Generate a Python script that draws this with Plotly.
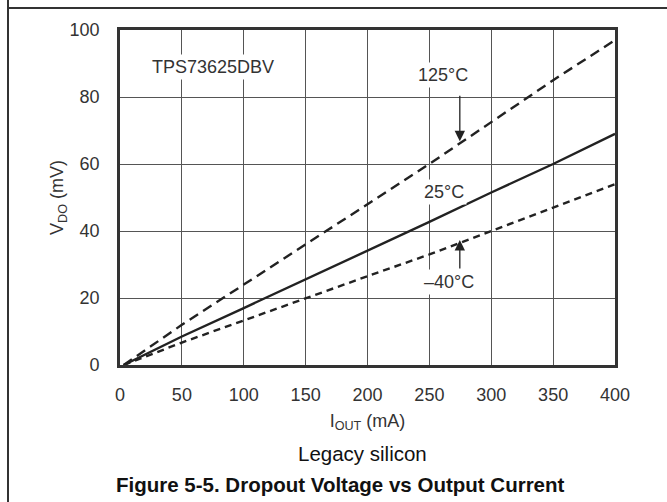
import plotly.graph_objects as go

# Dropout voltage (mV) vs output current (mA), TPS73625DBV, legacy silicon
i_out = [3, 50, 100, 150, 200, 250, 300, 350, 400]
vdo_125c = [0, 12, 24, 36, 48, 60, 72.5, 85, 97]
vdo_25c = [0, 8.5, 17, 25.5, 34, 42.7, 51.5, 60, 69]
vdo_m40c = [0, 6.7, 13.3, 20, 26.5, 33, 40, 47, 54]

x_ticks = [0, 50, 100, 150, 200, 250, 300, 350, 400]
y_ticks = [0, 20, 40, 60, 80, 100]

FONT = "Arial, 'Liberation Sans', sans-serif"
INK = "#222222"
TXT = "#333333"

W, H = 667, 502
ML, MR, MT, MB = 120, 52, 30, 137

fig = go.Figure()
fig.add_trace(go.Scatter(x=i_out, y=vdo_125c, mode="lines",
                         line=dict(color=INK, width=2.4, dash="10px,6px")))
fig.add_trace(go.Scatter(x=i_out, y=vdo_25c, mode="lines",
                         line=dict(color=INK, width=2.4)))
fig.add_trace(go.Scatter(x=i_out, y=vdo_m40c, mode="lines",
                         line=dict(color=INK, width=2.4, dash="7px,5px")))

def px_x(p):
    return (p - ML) / (W - ML - MR)

def px_y(p):
    return (H - MB - p) / (H - MT - MB)

label_font = dict(size=18, color=TXT)
annotations = [
    dict(x=75, y=89, xref="x", yref="y", text="TPS73625DBV", showarrow=False,
         font=label_font, bgcolor="white", borderpad=2),
    dict(x=261, y=86.5, xref="x", yref="y", text="125°C", showarrow=False,
         font=label_font, bgcolor="white", borderpad=2),
    dict(x=262, y=51.6, xref="x", yref="y", text="25°C", showarrow=False,
         font=label_font, bgcolor="white", borderpad=2),
    dict(x=266, y=24.8, xref="x", yref="y", text="–40°C", showarrow=False,
         font=label_font, bgcolor="white", borderpad=2),
    # arrows pointing at the 125°C and -40°C curves
    dict(x=274.6, y=66.8, xref="x", yref="y", ax=0, ay=-47, text="",
         showarrow=True, arrowhead=2, arrowsize=1.6, arrowwidth=1.3, arrowcolor=INK),
    dict(x=274.6, y=37.3, xref="x", yref="y", ax=0, ay=30, text="",
         showarrow=True, arrowhead=2, arrowsize=1.6, arrowwidth=1.3, arrowcolor=INK),
    dict(x=px_x(362), y=px_y(453), xref="paper", yref="paper", text="Legacy silicon",
         showarrow=False, font=dict(size=20.5, color="#111"), xanchor="center", yanchor="middle"),
    dict(x=px_x(340), y=px_y(484), xref="paper", yref="paper",
         text="<b>Figure 5-5. Dropout Voltage vs Output Current</b>",
         showarrow=False, font=dict(size=20.5, color="#111"), xanchor="center", yanchor="middle"),
]

shapes = [
    dict(type="line", xref="paper", yref="paper", x0=px_x(8), x1=px_x(8),
         y0=px_y(0), y1=px_y(H), line=dict(color="#333", width=2)),
    dict(type="line", xref="paper", yref="paper", x0=px_x(7), x1=px_x(W),
         y0=px_y(8), y1=px_y(8), line=dict(color="#333", width=2)),
]

axis_common = dict(showline=True, linewidth=2.6, linecolor="#333", mirror=True,
                   showgrid=True, gridcolor="#555", gridwidth=1, zeroline=False,
                   ticks="", tickfont=dict(size=18, color=TXT))

fig.update_layout(
    width=W, height=H,
    margin=dict(l=ML, r=MR, t=MT, b=MB, pad=0),
    paper_bgcolor="white", plot_bgcolor="white",
    font=dict(family=FONT, color=TXT),
    showlegend=False,
    xaxis=dict(range=[0, 400], tickvals=x_ticks, ticklabelstandoff=12,
               title=dict(text="I<sub>OUT</sub> (mA)", font=dict(size=18, color=TXT),
                          standoff=10),
               **axis_common),
    yaxis=dict(range=[0, 100], tickvals=y_ticks, ticklabelstandoff=14,
               title=dict(text="V<sub>DO</sub> (mV)", font=dict(size=18, color=TXT),
                          standoff=2),
               **axis_common),
    annotations=annotations,
    shapes=shapes,
)

fig.write_html("out.html")
